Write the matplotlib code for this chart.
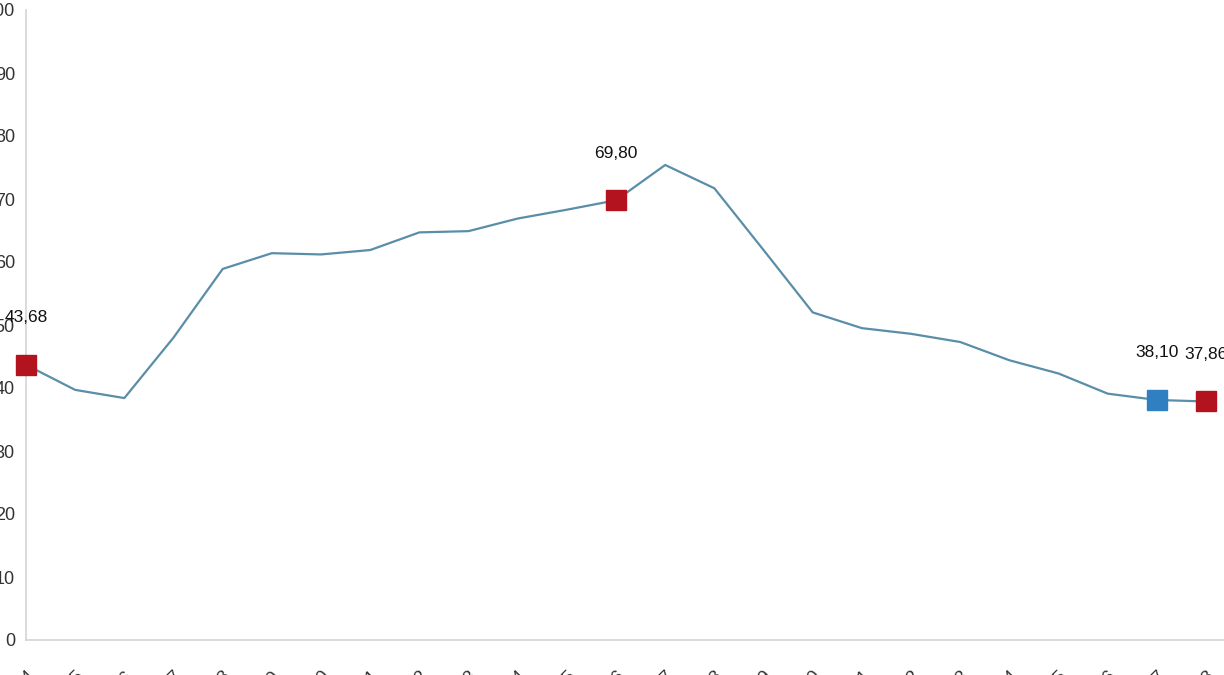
import matplotlib
matplotlib.use("Agg")
import matplotlib.pyplot as plt

# values (perspective-corrected)
years = [str(y) for y in range(2004, 2029)]
values = [43.68, 39.7, 38.4, 48.0, 58.9, 61.4, 61.2, 61.9, 64.7, 64.9,
          66.9, 68.3, 69.80, 75.4, 71.7, 61.9, 52.0, 49.5, 48.6, 47.3,
          44.4, 42.3, 39.1, 38.10, 37.86]
marked = [0, 12, 23, 24]
marker_colors = ['#b3121f', '#b3121f', '#2f7fc1', '#b3121f']
labels = ['43,68', '69,80', '38,10', '37,86']
yticks = [0, 10, 20, 30, 40, 50, 60, 70, 80, 90, 100]

plt.rcParams['font.family'] = ['Liberation Sans', 'DejaVu Sans']

fig = plt.figure(figsize=(12.24, 6.75), dpi=100)
ax = fig.add_axes([26 / 1224, 35 / 675, 1198 / 1224, 630 / 675])

xs = list(range(len(values)))
ax.plot(xs, values, color='#5a8ea8', linewidth=1.6, zorder=2, clip_on=False)

for i, c, lab in zip(marked, marker_colors, labels):
    ax.plot([xs[i]], [values[i]], marker='s', markersize=14.5, color=c,
            markeredgecolor=c, linestyle='none', zorder=3, clip_on=False)
    ax.annotate(lab, (xs[i], values[i]), xytext=(0, 34), textcoords='offset points',
                ha='center', va='center', fontsize=12.5, color='#111111',
                annotation_clip=False)

ax.set_xlim(0, 1198 / 49.17)
ax.set_ylim(0, 100)
ax.set_yticks(yticks)
ax.set_yticklabels([str(t) for t in yticks])
ax.set_xticks(xs)
ax.set_xticklabels(years, rotation=45, ha='right', va='top', rotation_mode='anchor')
ax.tick_params(axis='both', length=0, labelsize=13, colors='#333333')
ax.tick_params(axis='y', pad=8)
ax.tick_params(axis='x', pad=20)

for side in ['top', 'right']:
    ax.spines[side].set_visible(False)
for side in ['left', 'bottom']:
    ax.spines[side].set_color('#d4d4d4')
    ax.spines[side].set_linewidth(1.2)

fig.savefig('out.png', dpi=100)
